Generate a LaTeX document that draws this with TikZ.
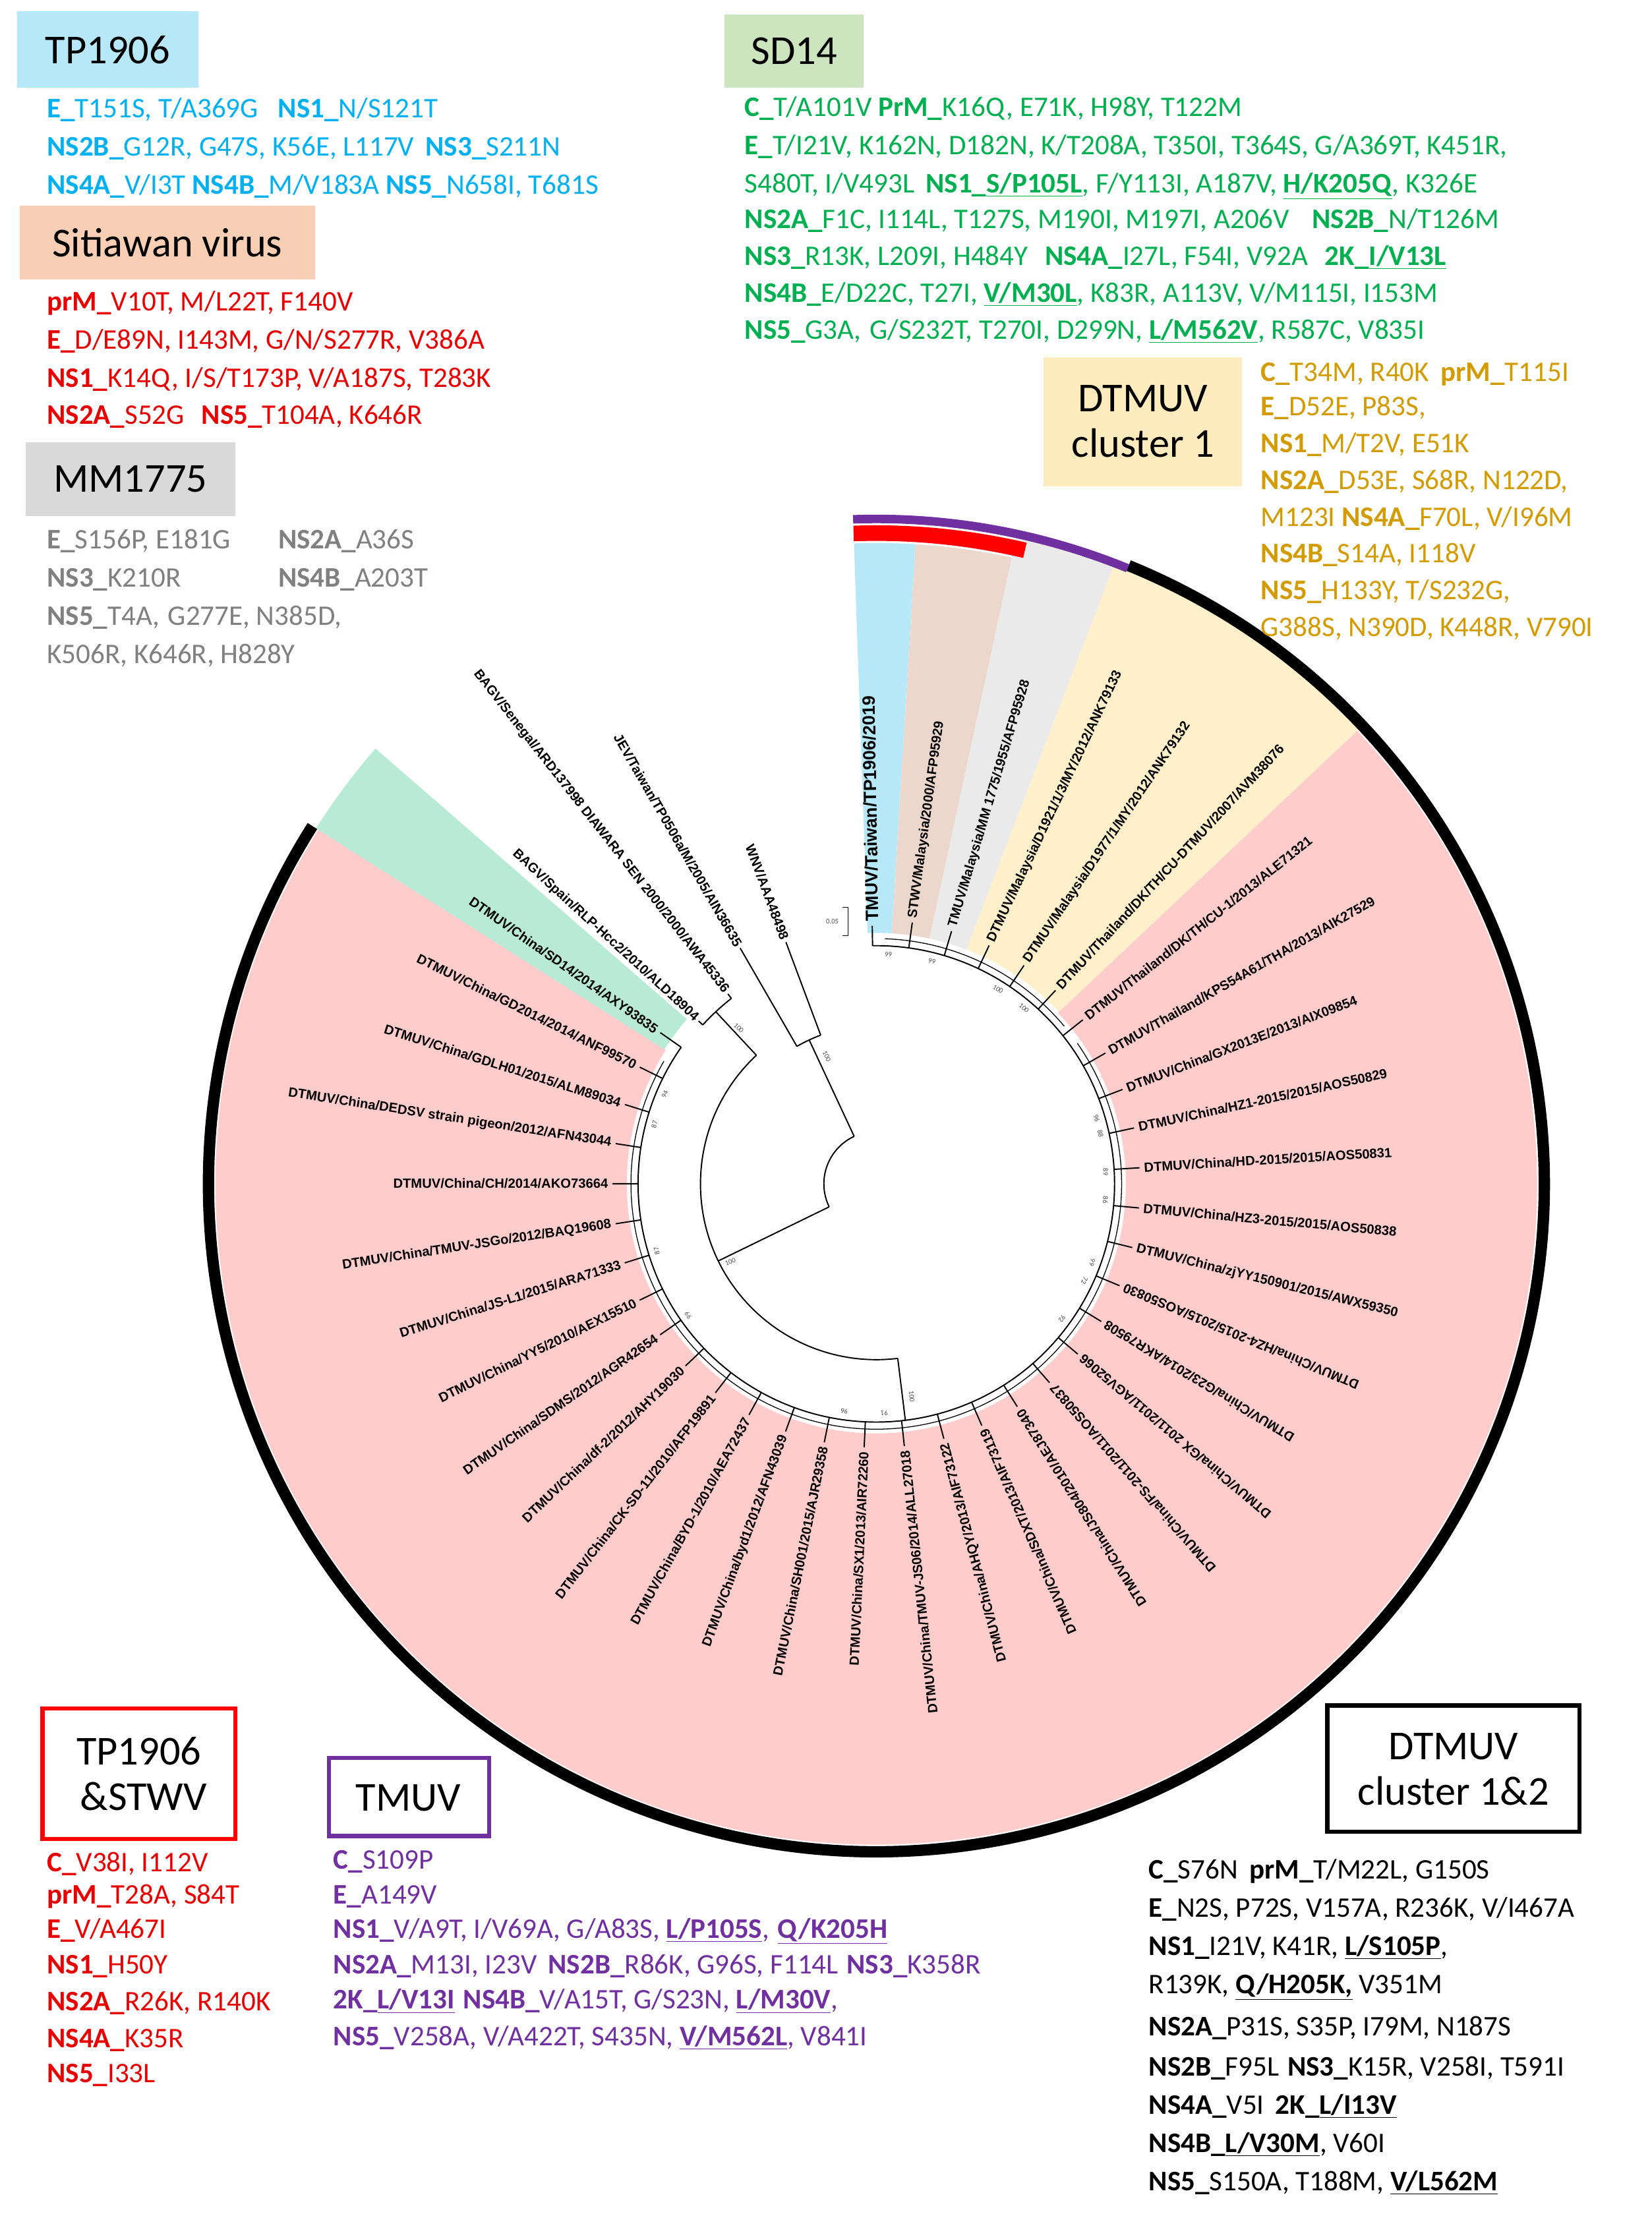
\documentclass[tikz,border=0pt]{standalone}
\usepackage{fontspec}
\setmainfont{Carlito}
\newfontfamily\leaffont{Liberation Sans}
\usetikzlibrary{calc}
\definecolor{cyanT}{RGB}{0,176,240}
\definecolor{redT}{RGB}{230,0,0}
\definecolor{greyT}{RGB}{128,128,128}
\definecolor{greenT}{RGB}{0,176,80}
\definecolor{orangeT}{RGB}{210,155,0}
\definecolor{purpleT}{RGB}{112,48,160}
\definecolor{cyanF}{RGB}{183,232,248}
\definecolor{brownF}{RGB}{236,215,204}
\definecolor{greyF}{RGB}{234,234,234}
\definecolor{yellowF}{RGB}{255,240,204}
\definecolor{pinkF}{RGB}{255,204,204}
\definecolor{greenF}{RGB}{185,234,214}
\definecolor{peachF}{RGB}{248,206,180}
\definecolor{grayBox}{RGB}{217,217,217}
\definecolor{sdBox}{RGB}{205,229,190}
\definecolor{c1Box}{RGB}{255,236,190}
\newcommand\gb[1]{\textbf{#1}}
\newcommand\ub[1]{\underline{\textbf{#1}}}
\newcommand\sector[5]{\fill[#1] ($(C)+(#2:#4)$) arc[start angle=#2,end angle=#3,radius=#4] -- ($(C)+(#3:#5)$) arc[start angle=#3,end angle=#2,radius=#5] -- cycle;}
% leaf: name, angle, radius, text
\newcommand\leaf[4]{%
 \pgfmathtruncatemacro\sidev{((#2>92)&&(#2<340))||(#2<-20)}%
 \ifnum\sidev=1
  \node[leaflabel,anchor=east,rotate=#2+180] (#1) at ($(C)+(#2:#3)$) {#4};
 \else
  \node[leaflabel,anchor=west,rotate=#2] (#1) at ($(C)+(#2:#3)$) {#4};
 \fi}
\newcommand\inleaf[3]{% name, index, text
 \pgfmathsetmacro\la{90.9-8.74*#2}%
 \draw[tree] ($(C)+(\la:168)$) -- ($(C)+(\la:186)$);
 \leaf{#1}{\la}{188}{#3}}
\begin{document}
\begin{tikzpicture}[x=1pt,y=1pt,
 tree/.style={line width=0.9pt},
 leaflabel/.style={font=\leaffont\bfseries\fontsize{9.4}{10}\selectfont,inner sep=1pt},
 boot/.style={font=\fontsize{5}{5}\selectfont,text=black!70,inner sep=0pt},
 body/.style={anchor=base west,inner sep=0pt,font=\fontsize{20}{24}\selectfont},
 head/.style={font=\fontsize{29}{32}\selectfont,align=center,inner sep=0pt},
 hbox/.style={line width=3pt}]
\useasboundingbox (0,0) rectangle (1165,-1563);
\coordinate (C) at (618,-835);
% sectors
\sector{pinkF}{43.3}{-212.4}{176}{466}
\sector{yellowF}{43.3}{69}{177}{467}
\sector{greyF}{69}{77.8}{177}{467}
\sector{brownF}{77.8}{86.5}{177}{452}
\sector{cyanF}{86.5}{92}{177}{452}
\sector{greenF}{139}{147.6}{177}{468}
% outer arcs
\draw[line width=8pt] ($(C)+(67.8:471)$) coordinate (bs) arc[start angle=67.8,end angle=-212.4,radius=471] coordinate (be);
\draw[line width=6pt,purpleT] ($(C)+(92:469)$) coordinate (ps) arc[start angle=92,end angle=67.8,radius=469] coordinate (pe);
\draw[line width=11pt,red] ($(C)+(92:459)$) coordinate (rs) arc[start angle=92,end angle=76.8,radius=459] coordinate (re);
% tree backbone
\draw[tree] ($(C)+(115:37)$) coordinate (n0a) arc[start angle=115,end angle=206,radius=37] coordinate (n0b);
\draw[tree] (n0a) -- ($(C)+(115:112)$) coordinate (nJW);
\draw[tree] ($(C)+(110.5:112)$) coordinate (nW) arc[start angle=110.5,end angle=120,radius=112] coordinate (nJ);
\draw[tree] (nJ) -- ($(C)+(120:192)$) coordinate (lJ);
\draw[tree] (nW) -- ($(C)+(110.5:182)$) coordinate (lW);
\draw[tree] (n0b) -- ($(C)+(206:124)$) coordinate (nI);
\draw[tree] ($(C)+(133:124)$) coordinate (nBa) arc[start angle=133,end angle=277,radius=124] coordinate (nBb);
\draw[tree] (nBa) -- ($(C)+(133:166)$) coordinate (nB);
\draw[tree] ($(C)+(128:166)$) coordinate (nB1) arc[start angle=128,end angle=137.5,radius=166] coordinate (nB2);
\draw[tree] (nB1) -- ($(C)+(128:170)$) coordinate (lSen);
\draw[tree] (nB2) -- ($(C)+(137.5:170)$) coordinate (lSpa);
\draw[tree] (nBb) -- ($(C)+(277:168)$) coordinate (nD);
\draw[tree] ($(C)+(145:168)$) coordinate (nDa) arc[start angle=145,end angle=450.9,radius=168] coordinate (nDb);
\draw[line width=0.6pt] ($(C)+(150:173)$) coordinate (nEa) arc[start angle=150,end angle=395,radius=173] coordinate (nEb);
\draw[line width=0.6pt] ($(C)+(40:173)$) coordinate (nFa) arc[start angle=40,end angle=88,radius=173] coordinate (nFb);
% outgroup labels
\leaf{WNV}{110.5}{183}{WNV/AAA48498}
\leaf{JEV}{120}{193}{JEV/Taiwan/TP0506a/M/2005/AIN36635}
\leaf{BAGVs}{128}{171}{BAGV/Senegal/ARD137998 DIAWARA SEN 2000/2000/AWA45336}
\leaf{BAGVp}{137.5}{171}{BAGV/Spain/RLP-Hcc2/2010/ALD18904}
% ingroup leaves
\draw[tree] ($(C)+(90.9:168)$) -- ($(C)+(90.9:182)$);
\node[leaflabel,font=\leaffont\bfseries\fontsize{12.5}{13}\selectfont,anchor=west,rotate=90.9] (L0) at ($(C)+(90.9:184)$) {TMUV/Taiwan/TP1906/2019};
\inleaf{L1}{1}{STWV/Malaysia/2000/AFP95929}
\inleaf{L2}{2}{TMUV/Malaysia/MM 1775/1955/AFP95928}
\inleaf{L3}{3}{DTMUV/Malaysia/D1921/1/3/MY/2012/ANK79133}
\inleaf{L4}{4}{DTMUV/Malaysia/D1977/1/MY/2012/ANK79132}
\inleaf{L5}{5}{DTMUV/Thailand/DK/TH/CU-DTMUV/2007/AVM38076}
\inleaf{L6}{6}{DTMUV/Thailand/DK/TH/CU-1/2013/ALE71321}
\inleaf{L7}{7}{DTMUV/Thailand/KPS54A61/THA/2013/AIK27529}
\inleaf{L8}{8}{DTMUV/China/GX2013E/2013/AIX09854}
\inleaf{L9}{9}{DTMUV/China/HZ1-2015/2015/AOS50829}
\inleaf{L10}{10}{DTMUV/China/HD-2015/2015/AOS50831}
\inleaf{L11}{11}{DTMUV/China/HZ3-2015/2015/AOS50838}
\inleaf{L12}{12}{DTMUV/China/zjYY150901/2015/AWX59350}
\inleaf{L13}{13}{DTMUV/China/HZ4-2015/2015/AOS50830}
\inleaf{L14}{14}{DTMUV/China/G23/2014/AKR79508}
\inleaf{L15}{15}{DTMUV/China/GX 2011/2011/AGV52066}
\inleaf{L16}{16}{DTMUV/China/FS-2011/2011/AOS50837}
\inleaf{L17}{17}{DTMUV/China/JS804/2010/AEJ87340}
\inleaf{L18}{18}{DTMUV/China/SDXT/2013/AIF73119}
\inleaf{L19}{19}{DTMUV/China/AHQY/2013/AIF73122}
\inleaf{L20}{20}{DTMUV/China/TMUV-JS06/2014/ALL27018}
\inleaf{L21}{21}{DTMUV/China/SX1/2013/AIR72260}
\inleaf{L22}{22}{DTMUV/China/SH001/2015/AJR29358}
\inleaf{L23}{23}{DTMUV/China/byd1/2012/AFN43039}
\inleaf{L24}{24}{DTMUV/China/BYD-1/2010/AEA72437}
\inleaf{L25}{25}{DTMUV/China/CK-SD-11/2010/AFP19891}
\inleaf{L26}{26}{DTMUV/China/df-2/2012/AHY19030}
\inleaf{L27}{27}{DTMUV/China/SDMS/2012/AGR42654}
\inleaf{L28}{28}{DTMUV/China/YY5/2010/AEX15510}
\inleaf{L29}{29}{DTMUV/China/JS-L1/2015/ARA71333}
\inleaf{L30}{30}{DTMUV/China/TMUV-JSGo/2012/BAQ19608}
\inleaf{L31}{31}{DTMUV/China/CH/2014/AKO73664}
\inleaf{L32}{32}{DTMUV/China/DEDSV strain pigeon/2012/AFN43044}
\inleaf{L33}{33}{DTMUV/China/GDLH01/2015/ALM89034}
\inleaf{L34}{34}{DTMUV/China/GD2014/2014/ANF99570}
\inleaf{L35}{35}{DTMUV/China/SD14/2014/AXY93835}
% bootstrap values
\node[boot,rotate=-65] (b1) at (583,-745) {100};
\node[boot,rotate=-45] (b2) at (521,-725) {100};
\node[boot,rotate=20] (b3) at (515,-890) {100};
\node[boot,rotate=-85] (b4) at (643,-985) {100};
\foreach \n/\a/\v in {b5/157/94,b6/165/87,b7/197/87,b8/215/99,b9/262/96,b10/272/91,b11/-36/92,b12/-25/72,b13/-20/99,b14/-4/86,b15/3/89,b16/12.6/88,b17/16.6/96,b18/87/99,b19/76/99,b20/58/100,b21/50/100}
 \node[boot,rotate=\a-90] (\n) at ($(C)+(\a:162)$) {\v};
% scale bar
\draw[line width=0.5pt] (594,-640) coordinate (s1) -- (598,-640) -- (598,-660) -- (594,-660) coordinate (s2);
\node[boot] (sc) at (587,-650) {0.05};
% header boxes
\fill[cyanF] (12,-8) rectangle (140,-62);
\node[head] (hTP) at (76,-35) {TP1906};
\fill[peachF] (14,-145) rectangle (222,-197);
\node[head] (hST) at (118,-171) {Sitiawan virus};
\fill[grayBox] (18,-312) rectangle (166,-364);
\node[head] (hMM) at (92,-338) {MM1775};
\fill[sdBox] (511,-10) rectangle (609,-62);
\node[head] (hSD) at (560,-36) {SD14};
\fill[c1Box] (736,-252) rectangle (876,-343);
\node[head] (hC1) at (806,-297) {DTMUV\\cluster 1};
\draw[hbox,red] (30,-1205) rectangle (166,-1297);
\node[head] (hTS) at (98,-1251) {TP1906\\\ \&STWV};
\draw[hbox,purpleT] (232,-1240) rectangle (345,-1295);
\node[head] (hTM) at (288,-1268) {TMUV};
\draw[hbox,black] (936,-1203) rectangle (1114,-1292);
\node[head] (hC12) at (1025,-1248) {DTMUV\\cluster 1\&2};
% TP1906 text
\begin{scope}[every node/.style={body,text=cyanT}]
\node (t1) at (33,-83) {\gb{E\_}T151S, T/A369G\hspace{14pt}\gb{NS1\_}N/S121T};
\node (t2) at (33,-110) {\gb{NS2B\_}G12R, G47S, K56E, L117V\hspace{8pt}\gb{NS3\_}S211N};
\node (t3) at (33,-137) {\gb{NS4A\_}V/I3T \gb{NS4B\_}M/V183A \gb{NS5\_}N658I, T681S};
\end{scope}
\begin{scope}[every node/.style={body,text=redT}]
\node (s1t) at (33,-219) {\gb{prM\_}V10T, M/L22T, F140V};
\node (s2t) at (33,-246) {\gb{E\_}D/E89N, I143M, G/N/S277R, V386A};
\node (s3t) at (33,-273) {\gb{NS1\_}K14Q, I/S/T173P, V/A187S, T283K};
\node (s4t) at (33,-299) {\gb{NS2A\_}S52G\hspace{12pt}\gb{NS5\_}T104A, K646R};
\end{scope}
\begin{scope}[every node/.style={body,text=greyT}]
\node (m1) at (33,-387) {\gb{E\_}S156P, E181G};
\node (m1b) at (196,-387) {\gb{NS2A\_}A36S};
\node (m2) at (33,-414) {\gb{NS3\_}K210R};
\node (m2b) at (196,-414) {\gb{NS4B\_}A203T};
\node (m3) at (33,-441) {\gb{NS5\_}T4A,\hspace{6pt}G277E, N385D,};
\node (m4) at (33,-468) {K506R, K646R, H828Y};
\end{scope}
\begin{scope}[every node/.style={body,text=greenT}]
\node (g1) at (525,-82) {\gb{C\_}T/A101V \gb{PrM\_}K16Q, E71K, H98Y, T122M};
\node (g2) at (525,-109) {\gb{E\_}T/I21V, K162N, D182N, K/T208A, T350I, T364S, G/A369T, K451R,};
\node (g3) at (525,-136) {S480T, I/V493L\hspace{8pt}\gb{NS1\_}\ub{S/P105L}, F/Y113I, A187V, \ub{H/K205Q}, K326E};
\node (g4) at (525,-161) {\gb{NS2A\_}F1C, I114L, T127S, M190I, M197I, A206V\hspace{16pt}\gb{NS2B\_}N/T126M};
\node (g5) at (525,-187) {\gb{NS3\_}R13K, L209I, H484Y\hspace{12pt}\gb{NS4A\_}I27L, F54I, V92A\hspace{12pt}\gb{2K\_}\ub{I/V13L}};
\node (g6) at (525,-213) {\gb{NS4B\_}E/D22C, T27I, \ub{V/M30L}, K83R, A113V, V/M115I, I153M};
\node (g7) at (525,-239) {\gb{NS5\_}G3A,\hspace{6pt}G/S232T, T270I, D299N, \ub{L/M562V}, R587C, V835I};
\end{scope}
\begin{scope}[every node/.style={body,text=orangeT}]
\node (o1) at (889,-269) {\gb{C\_}T34M, R40K\hspace{8pt}\gb{prM\_}T115I};
\node (o2) at (889,-293) {\gb{E\_}D52E, P83S,};
\node (o3) at (889,-319) {\gb{NS1\_}M/T2V, E51K};
\node (o4) at (889,-345) {\gb{NS2A\_}D53E, S68R, N122D,};
\node (o5) at (889,-371) {M123I \gb{NS4A\_}F70L, V/I96M};
\node (o6) at (889,-397) {\gb{NS4B\_}S14A, I118V};
\node (o7) at (889,-423) {\gb{NS5\_}H133Y, T/S232G,};
\node (o8) at (889,-449) {G388S, N390D, K448R, V790I};
\end{scope}
\begin{scope}[every node/.style={body,text=redT}]
\node (r1) at (33,-1320) {\gb{C\_}V38I, I112V};
\node (r2) at (33,-1343) {\gb{prM\_}T28A, S84T};
\node (r3) at (33,-1367) {\gb{E\_}V/A467I};
\node (r4) at (33,-1392) {\gb{NS1\_}H50Y};
\node (r5) at (33,-1418) {\gb{NS2A\_}R26K, R140K};
\node (r6) at (33,-1444) {\gb{NS4A\_}K35R};
\node (r7) at (33,-1469) {\gb{NS5\_}I33L};
\end{scope}
\begin{scope}[every node/.style={body,text=purpleT}]
\node (p1) at (235,-1318) {\gb{C\_}S109P};
\node (p2) at (235,-1343) {\gb{E\_}A149V};
\node (p3) at (235,-1367) {\gb{NS1\_}V/A9T, I/V69A, G/A83S, \ub{L/P105S},\hspace{6pt}\ub{Q/K205H}};
\node (p4) at (235,-1392) {\gb{NS2A\_}M13I, I23V\hspace{8pt}\gb{NS2B\_}R86K, G96S, F114L\hspace{6pt}\gb{NS3\_}K358R};
\node (p5) at (235,-1417) {\gb{2K\_}\ub{L/V13I}\hspace{6pt}\gb{NS4B\_}V/A15T, G/S23N, \ub{L/M30V},};
\node (p6) at (235,-1443) {\gb{NS5\_}V258A, V/A422T, S435N, \ub{V/M562L}, V841I};
\end{scope}
\begin{scope}[every node/.style={body,text=black}]
\node (k1) at (810,-1325) {\gb{C\_}S76N\hspace{8pt}\gb{prM\_}T/M22L, G150S};
\node (k2) at (810,-1352) {\gb{E\_}N2S, P72S, V157A, R236K, V/I467A};
\node (k3) at (810,-1379) {\gb{NS1\_}I21V, K41R, \ub{L/S105P},};
\node (k4) at (810,-1406) {R139K, \ub{Q/H205K,} V351M};
\node (k5) at (810,-1436) {\gb{NS2A\_}P31S, S35P, I79M, N187S};
\node (k6) at (810,-1464) {\gb{NS2B\_}F95L\hspace{6pt}\gb{NS3\_}K15R, V258I, T591I};
\node (k7) at (810,-1491) {\gb{NS4A\_}V5I\hspace{8pt}\gb{2K\_}\ub{L/I13V}};
\node (k8) at (810,-1518) {\gb{NS4B\_}\ub{L/V30M}, V60I};
\node (k9) at (810,-1545) {\gb{NS5\_}S150A, T188M, \ub{V/L562M}};
\end{scope}
\end{tikzpicture}
\end{document}
